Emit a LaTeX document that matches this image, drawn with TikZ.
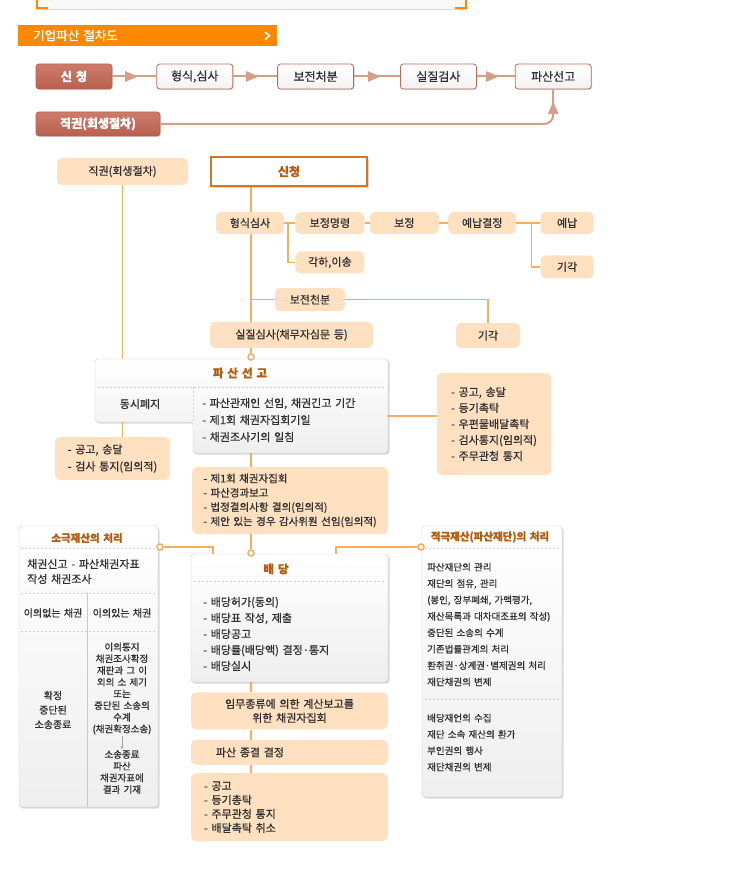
\documentclass[tikz,border=0pt]{standalone}
\usepackage{fontspec}
\setmainfont{Noto Sans CJK KR}[WordSpace=1.5, FakeBold=0.8]
\usepackage{tikz}
\usetikzlibrary{arrows,shapes,positioning,shadows,calc,backgrounds,decorations.markings}
\usepackage{xcolor}
\definecolor{bannerorange}{RGB}{255,136,0}
\definecolor{lineorange}{RGB}{248,172,95}
\definecolor{peachfill}{RGB}{255,224,192}
\definecolor{titlebrown}{RGB}{180,92,16}
\definecolor{txtgray}{RGB}{48,48,48}
\definecolor{salmontop}{RGB}{206,124,106}
\definecolor{salmonbot}{RGB}{184,96,80}
\definecolor{boxbrown}{RGB}{190,104,88}
\definecolor{flowbrown}{RGB}{214,158,134}
\definecolor{panelline}{RGB}{200,200,200}
\definecolor{sinorange}{RGB}{212,116,36}
\tikzstyle{flowbox} = [rectangle, rounded corners=3pt, minimum width=76pt, minimum height=25pt, draw=boxbrown, thick, top color=white, bottom color=gray!10, text=txtgray, font=\fontsize{12}{14}\selectfont, drop shadow={shadow xshift=1pt, shadow yshift=-1pt, opacity=0.25}]
\tikzstyle{darkbox} = [flowbox, draw=salmonbot, top color=salmontop, bottom color=salmonbot, text=white, font=\fontsize{12}{14}\selectfont\bfseries]
\tikzstyle{peach} = [rectangle, rounded corners=5pt, fill=peachfill, text=txtgray, font=\fontsize{11}{13}\selectfont, inner sep=0pt, align=center]
\tikzstyle{panel} = [rectangle, rounded corners=3pt, draw=panelline, top color=white, bottom color=gray!13, drop shadow={shadow xshift=1.5pt, shadow yshift=-1.5pt, opacity=0.3}]
\tikzstyle{link} = [draw=lineorange, line width=1.5pt]
\tikzstyle{dot} = [circle, draw=lineorange, line width=1.5pt, fill=white, inner sep=0pt, minimum size=6pt]
\tikzstyle{sep} = [draw=gray!35, dash pattern=on 2pt off 2pt]
\tikzstyle{head} = [font=\fontsize{11.5}{13}\selectfont\bfseries, text=titlebrown, inner sep=0pt]
\tikzstyle{items} = [text=txtgray, align=left, inner sep=0pt, anchor=west]
\tikzset{flow/.style={draw=flowbrown, line width=2pt, postaction={decorate},
  decoration={markings, mark=at position #1 with {\arrow[color=flowbrown]{triangle 45}}}},
  flow/.default=0.58}

\begin{document}
\begin{tikzpicture}[x=1pt, y=-1pt]
\useasboundingbox (0,0) rectangle (750,885);
% top frame
\fill[gray!5] (36,0) rectangle (467,9.5);
\draw[gray!30] (36,9.5) -- (467,9.5);
\draw[bannerorange, line width=2pt] (37,0) -- (37,8.5) -- (48,8.5);
\draw[bannerorange, line width=2pt] (466,0) -- (466,8.5) -- (455,8.5);

% title bar
\node (banner) [fill=bannerorange, text=white, minimum height=21pt, text width=229pt, inner xsep=15pt, inner ysep=0pt, align=left, anchor=west, font=\fontsize{12.5}{14}\selectfont] at (18,35.5) {기업파산 절차도};
\draw[white, line width=1.6pt] (265,32) -- (269.5,35.8) -- (265,39.5);

% simple flow
\node (sin) [darkbox] at (74,76.5) {신 청};
\node (hyeongsik) [flowbox, right=44pt of sin] {형식,심사};
\node (bojeon) [flowbox, right=44pt of hyeongsik] {보전처분};
\node (siljilgeom) [flowbox, right=46pt of bojeon] {실질검사};
\node (pasan) [flowbox, right=38pt of siljilgeom] {파산선고};
\node (jikgwon) [darkbox, minimum width=124pt, minimum height=24pt] at (98,124) {직권(회생절차)};
\draw[flow] (sin) -- (hyeongsik);
\draw[flow] (hyeongsik) -- (bojeon);
\draw[flow] (bojeon) -- (siljilgeom);
\draw[flow] (siljilgeom) -- (pasan);
\draw[flow=-12pt, rounded corners=9pt] (jikgwon.east) -| (pasan.south);

% application and review
\node (jikpeach) [peach, minimum width=131pt, minimum height=27pt] at (122.5,171.5) {직권(회생절차)};
\node (sinchung) [rectangle, draw=sinorange, line width=2pt, fill=white, minimum width=156pt, minimum height=29pt, font=\fontsize{12}{14}\selectfont\bfseries, text=titlebrown, drop shadow={shadow xshift=2pt, shadow yshift=-2pt, opacity=0.3}] at (289,171.5) {신청};
\node (hyung) [peach, minimum width=68pt, minimum height=22pt] at (250,223) {형식심사};
\node (bmyeong) [peach, minimum width=69pt, minimum height=22pt, right=11pt of hyung] {보정명령};
\node (bojeong) [peach, minimum width=69pt, minimum height=22pt, right=5pt of bmyeong] {보정};
\node (yenapgj) [peach, minimum width=68pt, minimum height=22pt, right=9pt of bojeong] {예납결정};
\node (yenap) [peach, minimum width=53pt, minimum height=22pt, right=24pt of yenapgj] {예납};
\node (gigakA) [peach, minimum width=53pt, minimum height=23pt, below=21pt of yenap] {기각};
\node (gakha) [peach, minimum width=69pt, minimum height=22pt, below=17pt of bmyeong] {각하,이송};
\node (bocheon) [peach, minimum width=70pt, minimum height=23pt] at (310,299.5) {보전천분};
\node (siljil) [peach, minimum width=163pt, minimum height=26pt] at (291.5,335) {실질심사(채무자심문 등)};
\node (gigakB) [peach, minimum width=64pt, minimum height=25pt] at (488,335.5) {기각};

% declaration
\node (sunggo) [minimum width=293pt, minimum height=94pt, inner sep=0pt] at (241.5,406) {};
\path[draw=panelline, top color=white, bottom color=gray!13, rounded corners=3pt, drop shadow={shadow xshift=1.5pt, shadow yshift=-1.5pt, opacity=0.3}] (95,359) -- (388,359) -- (388,453) -- (193,453) -- (193,422) -- (95,422) -- cycle;
\node (sgtitle) [head] at (240,373) {파 산 선 고};
\draw[sep] (98,387) -- (385,387);
\draw[sep] (193,387) -- (193,422);
\node (dongsi) [text=txtgray, font=\fontsize{11}{13}\selectfont] at (140,404) {동시폐지};
\node (sgitems) [items, font=\fontsize{11}{17}\selectfont] at (202,420) {- 파산관재인 선임, 채권긴고 기간\\- 제1회 채권자집회기일\\- 채권조사기의 일침};
\node (gongoL) [peach, align=left, minimum width=115pt, minimum height=43pt, font=\fontsize{11}{17}\selectfont] at (112.5,458.5) {- 공고, 송달\\- 검사 통지(임의적)};
\node (gongoR) [peach, align=left, minimum width=114pt, minimum height=102pt, font=\fontsize{11}{16}\selectfont] at (494,424) {- 공고, 송달\\- 등기촉탁\\- 우편물배달촉탁\\- 검사통지(임의적)\\- 주무관청 통지};
\node (jehoe) [peach, align=left, minimum width=196pt, minimum height=67pt, font=\fontsize{10.5}{14.3}\selectfont] at (290,500.5) {- 제1회 채권자집회\\- 파산경과보고\\- 법정결의사항 결의(임의적)\\- 제안 있는 경우 감사위원 선임(임의적)};

% distribution
\node (baedang) [panel, minimum width=197pt, minimum height=128pt] at (289.5,618) {};
\node (bdtitle) [head] at (276,569) {배 당};
\draw[sep] (194,581) -- (385,581);
\node (bditems) [items, font=\fontsize{11}{16}\selectfont] at (203,634) {- 배당허가(동의)\\- 배당표 작성, 제출\\- 배당공고\\- 배당률(배당액) 결정·통지\\- 배당실시};
\node (immu) [peach, minimum width=197pt, minimum height=37pt, font=\fontsize{11}{14}\selectfont, below=10pt of baedang] {임무종류에 의한 계산보고를\\위한 채권자집회};
\node (jonggyeol) [peach, minimum width=197pt, minimum height=25pt, below=10pt of immu] {};
\node (jgtxt) [text=txtgray, font=\fontsize{11}{13}\selectfont] at ([xshift=-39.5pt]jonggyeol.center) {파산 종결 결정};
\node (huso) [peach, minimum width=197pt, minimum height=68pt, text width=171pt, inner xsep=13pt, align=left, font=\fontsize{11}{14}\selectfont, below=8pt of jonggyeol] {- 공고\\- 등기총탁\\- 주무관청 통지\\- 배달촉탁 취소};

% passive estate
\node (sogeuk) [panel, minimum width=139pt, minimum height=281pt] at (88.5,666.5) {};
\node (sgkTitle) [head, font=\fontsize{10.5}{12}\selectfont\bfseries] at (87,538) {소극재산의 처리};
\draw[sep] (21,548) -- (156,548);
\node (sgkA) [items, font=\fontsize{11}{15}\selectfont] at (27,571.5) {채권신고 - 파산채권자표\\작성 채권조사};
\draw[sep] (21,593) -- (156,593);
\draw[panelline] (87,593) -- (87,807);
\node (sgkL) [text=txtgray, font=\fontsize{10}{11}\selectfont] at (53,613) {이의없는 채권};
\node (sgkR) [text=txtgray, font=\fontsize{10}{11}\selectfont] at (122,613) {이의있는 채권};
\draw[sep] (21,631) -- (156,631);
\node (sgkConf) [text=txtgray, align=center, font=\fontsize{10}{14.5}\selectfont] at (53,710) {확정\\중단된\\소송종료};
\node (ichtop) [text=txtgray, align=center, inner sep=1pt, font=\fontsize{9.5}{11.7}\selectfont] at (122,688.5) {이의통지\\채권조사확정\\재판과 그 이\\외의 소 제기\\또는\\중단된 소송의\\수계\\(채권확정소송)};
\node (ichbot) [text=txtgray, align=center, inner sep=1pt, font=\fontsize{9.5}{11.7}\selectfont] at (122,772) {소송종료\\파산\\채권자표에\\결과 기재};
\draw[->, >=stealth, gray!70] (ichtop) -- (ichbot);

% active estate
\node (jeokgeuk) [panel, minimum width=140pt, minimum height=271pt] at (492,661.5) {};
\node (jgTitle) [head, font=\fontsize{10.5}{12}\selectfont\bfseries] at (490,537) {적극재산(파산재단)의 처리};
\draw[sep] (425,548) -- (559,548);
\node (jgA) [items, font=\fontsize{9.5}{16.4}\selectfont] at (427,624.5) {파산재단의 관리\\재단의 점유, 관리\\(봉인, 장부폐쇄, 가액평가,\\재산목록과 대차대조표의 작성)\\중단된 소송의 수계\\기존법률관계의 처리\\환취권·상계권·별제권의 처리\\재단채권의 변제};
\draw[sep] (425,699) -- (559,699);
\node (jgB) [items, font=\fontsize{9.5}{16.3}\selectfont] at (427,742.5) {배당재언의 수집\\재단 소속 재산의 환가\\부인권의 행사\\재단채권의 변제};

% joints
\node (dotA) [dot] at (251,357) {};
\node (dotB) [dot] at (251,553) {};
\node (dotC) [dot] at (160,547) {};
\node (dotD) [dot] at (421,547) {};

% connectors
\coordinate (trunk) at (251,0);
\coordinate (sgR) at ($(sunggo.east)+(0,10)$);
\begin{pgfonlayer}{background}
\draw[link] (sinchung.south -| trunk) -- (dotA);
\draw[link] (hyung.east) -- (bmyeong.west);
\draw[link] ([xshift=4pt]hyung.east) |- (gakha.west);
\draw[link] (bmyeong) -- (bojeong);
\draw[link] (bojeong) -- (yenapgj);
\draw[link] (yenapgj) -- (yenap);
\draw[link] ([xshift=15pt]yenapgj.east) |- (gigakA.west);
\draw[link] (bocheon.west -| trunk) -- (bocheon.west);
\draw[link] (bocheon.east) -| (gigakB.north);
\draw[link] (jikpeach.south) -- (jikpeach.south |- gongoL.north);
\draw[link] (sgR) -- (sgR -| gongoR.west);
\draw[link] (sunggo.south -| trunk) -- (jehoe.north -| trunk);
\draw[link] (jehoe.south -| trunk) -- (dotB);
\draw[link] (dotC) -| ([xshift=22pt]baedang.north west);
\draw[link] (dotD) -| ([xshift=-52pt]baedang.north east);
\draw[link] (baedang.south -| trunk) -- (immu.north -| trunk);
\draw[link] (immu.south -| trunk) -- (jonggyeol.north -| trunk);
\draw[link] (jonggyeol.south -| trunk) -- (huso.north -| trunk);
\end{pgfonlayer}
\end{tikzpicture}
\end{document}
